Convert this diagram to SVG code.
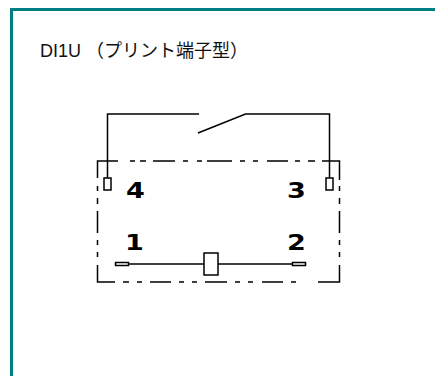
<svg xmlns="http://www.w3.org/2000/svg" width="435" height="376" viewBox="0 0 435 376">
<style>
.w{fill:none;stroke:#000;stroke-width:1.5}
.t{fill:#fff;stroke:#000;stroke-width:1.5}
.n{font-family:"DejaVu Sans",sans-serif;font-weight:bold;font-size:21.500px;fill:#000}
</style>
<rect width="435" height="376" fill="#fff"/>
<path d="M11.500 376V9.500H435" fill="none" stroke="#008080" stroke-width="3"/>
<text x="40" y="56.500" font-family="'Liberation Sans','Noto Sans CJK JP',sans-serif" font-size="18" fill="#111">DI1U （プリント端子型）</text>
<g id="connectors">
<path class="w" d="M107.500 178V114H199"/>
<path class="w" d="M198 133L245.500 114H329.500V178"/>
<path class="w" d="M129 264H204"/>
<path class="w" d="M218 264H292"/>
<path class="w" d="M97.500 178V161H118M130 161H135M140 161H146M153 161H175M183 161H188M197 161H202M207 161H232M240 161H245M253 161H258M267 161H288M295 161H300M308 161H315M322 161H339.500V180"/>
<path class="w" d="M97.500 186V191M97.500 198V204M97.500 211V233M97.500 240V245M97.500 252V257M97.500 265V282H115M123 282H129M137 282H142M150 282H171M179 282H184M192 282H197M205 282H227M235 282H240M248 282H253M262 282H283M291 282H296M318 282H339.500V265M339.500 257V252M339.500 245V240M339.500 233V211M339.500 204V198M339.500 191V186"/>
</g>
<g id="terminal-4"><rect class="t" x="104" y="178" width="7" height="12"/><text class="n" transform="translate(126 197.500) scale(1.26 1)">4</text></g>
<g id="terminal-3"><rect class="t" x="326" y="178" width="7" height="12"/><text class="n" transform="translate(287 197.500) scale(1.26 1)">3</text></g>
<g id="terminal-1"><rect class="t" x="115.500" y="262.500" width="13" height="3"/><text class="n" transform="translate(125 250) scale(1.26 1)">1</text></g>
<g id="terminal-2"><rect class="t" x="292.500" y="262.500" width="13" height="3"/><text class="n" transform="translate(287 250) scale(1.26 1)">2</text></g>
<g id="coil"><rect class="t" x="204" y="253" width="14" height="22"/></g>
</svg>
